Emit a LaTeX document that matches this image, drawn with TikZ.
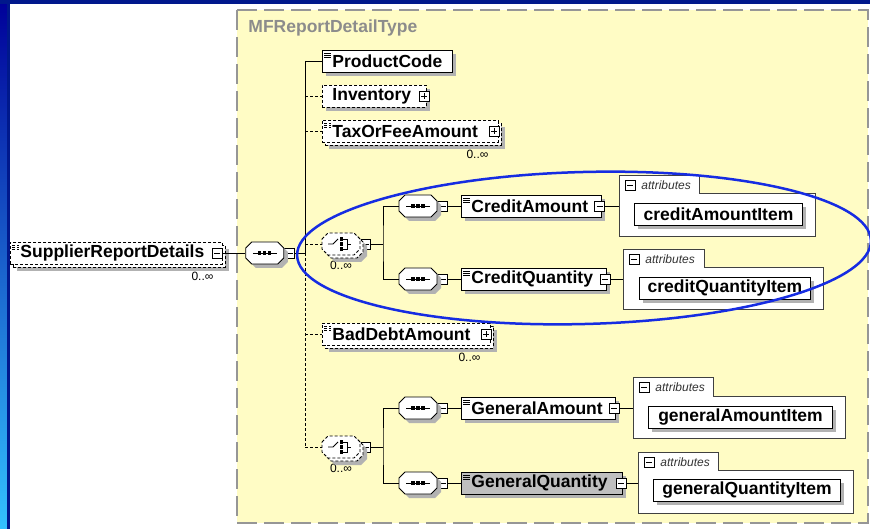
\documentclass[tikz,border=0pt]{standalone}
\usepackage{fontspec}
\setmainfont{Liberation Sans}
\usetikzlibrary{positioning,shadows}

\definecolor{boxyellow}{RGB}{255,252,197}
\definecolor{boxgray}{RGB}{150,150,150}
\definecolor{framenavy}{RGB}{0,24,140}
\definecolor{ringblue}{RGB}{22,44,226}

% octagonal compositor outline round a node
\newcommand\compshape[2]{%
  \begin{scope}[shift={(#1.center)}]
    \path[#2] (-19,-5) -- (-13,-11) -- (13,-11) -- (19,-5) -- (19,5) -- (13,11) -- (-13,11) -- (-19,5) -- cycle;
  \end{scope}}
% sequence symbol inside a compositor
\newcommand\seqicon[1]{%
  \begin{scope}[shift={(#1.center)}]
    \draw (-12,0) -- (12,0);
    \foreach \d in {-5,0,5}
      \fill (\d-1.6,-1.6) rectangle (\d+1.6,1.6);
  \end{scope}}
% choice symbol inside a compositor
\newcommand\choiceicon[1]{%
  \begin{scope}[shift={(#1.center)}]
    \draw (-13,0) -- (-8,0) -- (-3,-5);
    \foreach \d in {-5,0,5}
      \fill (-1.2,\d-1.6) rectangle (2,\d+1.6);
    \draw (2,-5) -- (6,-5) -- (6,5) -- (2,5) (6,0) -- (10,0);
  \end{scope}}

\begin{document}
\begin{tikzpicture}[x=1pt, y=-1pt,
    line width=0.9pt,
    font=\fontsize{17.5}{20}\selectfont\bfseries]
  % styles of boxes
  \tikzset{
    shade box/.style={drop shadow={shadow xshift=4pt,shadow yshift=-4pt,fill=black!30,opacity=1}},
    optional/.style={dash pattern=on 3pt off 2pt},
    multi/.style={general shadow={shadow xshift=7pt,shadow yshift=-7pt,fill=black!30},
      general shadow={shadow xshift=3pt,shadow yshift=-3pt,fill=white,draw=black,dash pattern=on 3pt off 2pt}},
    elem/.style={draw,fill=white,shade box,minimum height=22pt,inner xsep=10pt,inner ysep=0pt,align=left,anchor=west},
    docmark/.style={path picture={
      \foreach \k in {3pt,5pt,7pt}
        \draw[line width=0.6pt] ([shift={(2pt,-\k)}]path picture bounding box.north west) -- ++(7pt,0pt);}},
    minusbox/.style={draw,fill=white,minimum size=10pt,inner sep=0pt,line width=0.6pt,
      path picture={\draw[line width=0.6pt] ([xshift=2pt]path picture bounding box.west) -- ([xshift=-2pt]path picture bounding box.east);}},
    plusbox/.style={draw,fill=white,minimum size=10pt,inner sep=0pt,line width=0.6pt,
      path picture={\draw[line width=0.6pt] ([xshift=2pt]path picture bounding box.west) -- ([xshift=-2pt]path picture bounding box.east);
        \draw[line width=0.6pt] ([yshift=-2pt]path picture bounding box.north) -- ([yshift=2pt]path picture bounding box.south);}},
    seq/.style={minimum width=38pt,minimum height=22pt,inner sep=0pt},
    seqline/.style={draw,fill=white,shade box},
    choiceline/.style={draw,fill=white,optional,multi},
    count/.style={font=\fontsize{12}{14}\selectfont,inner sep=0pt},
    panel/.style={draw=black!75,fill=white},
    attr/.style={draw,fill=white,shade box,minimum height=22pt,inner sep=0pt,anchor=north west},
    attrlabel/.style={font=\fontsize{12}{14}\selectfont\itshape,text=black!80,anchor=west,inner sep=0pt}
  }
  \useasboundingbox (0,0) rectangle (870,529);
  \fill[white] (0,0) rectangle (870,529);

  % complex type frame
  \draw[fill=boxyellow,draw=boxgray,line width=1.5pt,dash pattern=on 20pt off 7pt] (237,10) rectangle (868,523);
  \node[anchor=west,inner sep=0pt,text=black!45] (title) at (248,28) {MFReportDetailType};

  % attribute panels
  \draw[panel] (619,175) -- (699,175) -- (699,193) -- (815,193) -- (815,236) -- (619,236) -- cycle;
  \draw[panel] (623,249) -- (704,249) -- (704,267) -- (823,267) -- (823,309) -- (623,309) -- cycle;
  \draw[panel] (633,377) -- (713,377) -- (713,396) -- (845,396) -- (845,438) -- (633,438) -- cycle;
  \draw[panel] (638,452) -- (718,452) -- (718,470) -- (853,470) -- (853,513) -- (638,513) -- cycle;
  \foreach \px/\py in {619/175,623/249,633/377,638/452} {
    \node[minusbox] at (\px+11,\py+10) {};
    \node[attrlabel] at (\px+22,\py+10) {attributes};
  }
  \coordinate (pa1) at (619,206);
  \coordinate (pa2) at (623,279);
  \coordinate (pa3) at (633,408);
  \coordinate (pa4) at (638,483);
  \node[attr,minimum width=168pt] (cai) at (634,203) {creditAmountItem};
  \node[attr,minimum width=171pt] (cqi) at (639,277) {creditQuantityItem};
  \node[attr,minimum width=184pt] (gai) at (648,406) {generalAmountItem};
  \node[attr,minimum width=187pt] (gqi) at (653,479) {generalQuantityItem};

  % root element
  \node[elem,optional,multi,docmark,text width=192pt] (root) at (10,253) {SupplierReportDetails};
  \node[minusbox] (rootT) at (217,253) {};
  \node[count,below left=7pt and 9pt of root.south east] {0..∞};
  \node[seq,right=23pt of rootT] (s0) {};
  \node[minusbox,right=0pt of s0] (s0T) {};

  % children of the type
  \coordinate (top) at (305,61);
  \coordinate (bot) at (305,447);
  \node[elem,docmark,text width=110pt] (pc) at (322,61) {ProductCode};
  \node[elem,optional,text width=84pt] (inv) at (322,96) {Inventory};
  \node[plusbox] at (424,96) {};
  \node[elem,optional,multi,docmark,text width=156pt] (tax) at (322,131) {TaxOrFeeAmount};
  \node[plusbox] at (494,131) {};
  \node[count,below left=7pt and 10pt of tax.south east] {0..∞};
  \node[elem,optional,multi,docmark,text width=148pt] (bad) at (322,334) {BadDebtAmount};
  \node[plusbox] at (486,334) {};
  \node[count,below left=7pt and 10pt of bad.south east] {0..∞};

  % choices
  \node[seq] (ch1) at (341,244) {};
  \node[minusbox,right=0pt of ch1] (ch1T) {};
  \node[count,below=5pt of ch1] {0..∞};
  \node[seq] (ch2) at (341,447) {};
  \node[minusbox,right=0pt of ch2] (ch2T) {};
  \node[count,below=5pt of ch2] {0..∞};
  \coordinate (fork1) at (383,244);
  \coordinate (fork2) at (383,447);

  % sequences in the choices
  \node[seq] (sA) at (418,206) {};
  \node[seq] (sB) at (418,279) {};
  \node[seq] (sC) at (418,408) {};
  \node[seq] (sD) at (418,483) {};
  \foreach \s in {sA,sB,sC,sD}
    \node[minusbox,right=0pt of \s] (\s T) {};
  \foreach \s in {s0,sA,sB,sC,sD} {
    \compshape{\s}{seqline}
    \seqicon{\s}
  }
  \foreach \s in {ch1,ch2} {
    \compshape{\s}{choiceline}
    \choiceicon{\s}
  }

  % elements with attributes
  \node[elem,docmark,text width=120pt] (ca) at (461,206) {CreditAmount};
  \node[minusbox] (caT) at (599.5,206) {};
  \node[elem,docmark,text width=125pt] (cq) at (461,279) {CreditQuantity};
  \node[minusbox] (cqT) at (605,279) {};
  \node[elem,docmark,text width=134pt] (ga) at (461,408) {GeneralAmount};
  \node[minusbox] (gaT) at (614,408) {};
  \node[elem,docmark,fill=black!25,text width=141pt] (gq) at (461,483) {GeneralQuantity};
  \node[minusbox] (gqT) at (621,483) {};

  % connectors
  \draw (rootT) -- (s0);
  \draw (s0T) -- (s0T -| top);
  \draw (top) -- (s0T -| top);
  \draw[optional] (s0T -| top) -- (bot);
  \draw (top) -- (pc);
  \draw[optional] (inv.west -| top) -- (inv);
  \draw[optional] (tax.west -| top) -- (tax);
  \draw[optional] (ch1.west -| top) -- (ch1);
  \draw[optional] (bad.west -| top) -- (bad);
  \draw[optional] (bot) -- (ch2);
  \draw (ch1T) -- (fork1);
  \draw (sA) -| (fork1) |- (sB);
  \draw (ch2T) -- (fork2);
  \draw (sC) -| (fork2) |- (sD);
  \draw (sAT) -- (ca);
  \draw (sBT) -- (cq);
  \draw (sCT) -- (ga);
  \draw (sDT) -- (gq);
  \draw (caT) -- (pa1);
  \draw (cqT) -- (pa2);
  \draw (gaT) -- (pa3);
  \draw (gqT) -- (pa4);

  % highlight ring
  \draw[ringblue,line width=2.5pt,rotate around={1.5:(584,248)}] (584,248) ellipse [x radius=287,y radius=76];

  % slide frame
  \shade[top color=blue!60!black,middle color=blue!70!cyan!80!black,bottom color=cyan!70!blue!80] (0,0) rectangle (7,529);
  \fill[framenavy] (7,0) rectangle (10,529);
  \fill[framenavy] (0,0) rectangle (870,4);
\end{tikzpicture}
\end{document}
